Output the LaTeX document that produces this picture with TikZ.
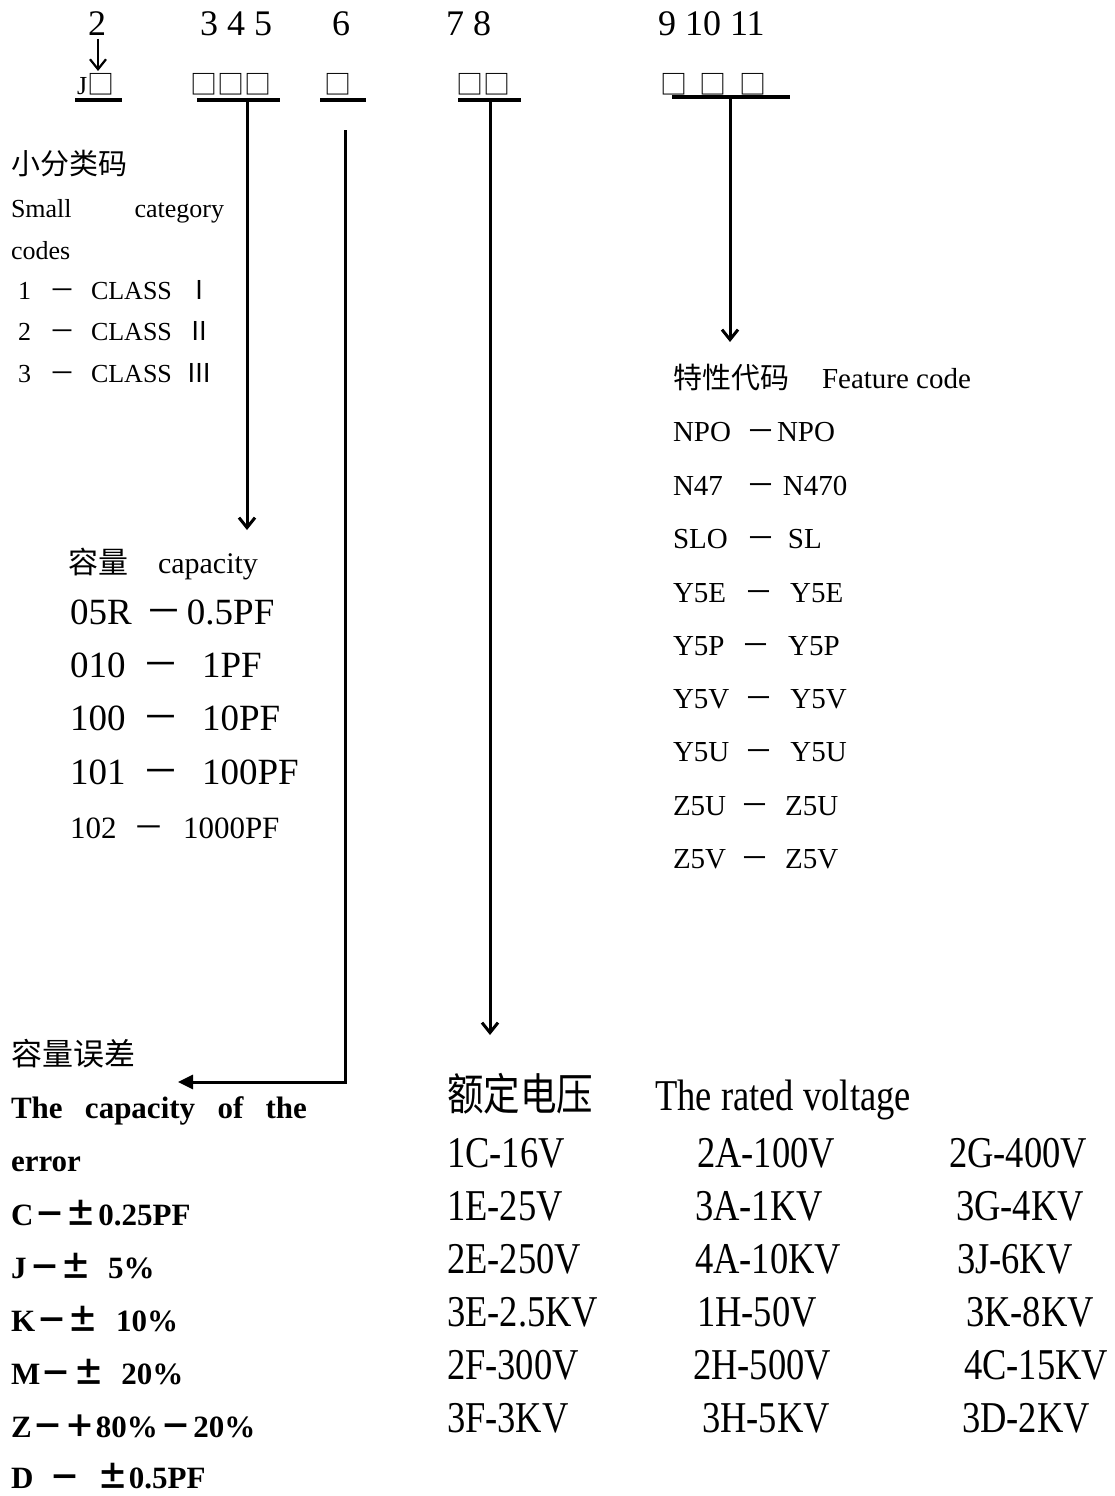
\documentclass[tikz,border=0pt]{standalone}
\usepackage{fontspec}
\setmainfont{Liberation Serif}
\newfontfamily\cjk{Noto Sans CJK SC}
\usetikzlibrary{arrows.meta}
\newcommand\fs[1]{\fontsize{#1}{#1}\selectfont}
\newcommand\fw[1]{\makebox[1em][c]{\cjk #1}}
\begin{document}
\begin{tikzpicture}[x=1pt,y=-1pt,
  txt/.style={anchor=base west,inner sep=0pt,outer sep=0pt},
  num/.style={txt,font=\fs{36}},
  boxes/.style={txt,font=\fs{27}\cjk},
  lft/.style={txt,font=\fs{26}},
  capt/.style={txt,font=\fs{37}},
  feat/.style={txt,font=\fs{29}},
  err/.style={txt,font=\fs{31}\bfseries},
  volt/.style={txt,font=\fs{44},xscale=0.83},
  ul/.style={line width=3.3pt},
  conn/.style={line width=3pt},
  barb/.style={-{Straight Barb[length=10pt,width=16pt]}},
  tri/.style={-{Triangle[length=15pt,width=14pt]}}]
\useasboundingbox (0,0) rectangle (1114,1496);
% top position numbers
\node[num] (n2) at (88,36) {2};
\node[num] (n345) at (200,36) {3 4 5};
\node[num] (n6) at (332,36) {6};
\node[num] (n78) at (446,36) {7 8};
\node[num] (n911) at (658,36) {9 10 11};
% code boxes
\node[txt,font=\fs{26}] (b2) at (77,94) {J{\fs{27}\cjk □}};
\node[boxes] (b345) at (190.5,94) {□□□};
\node[boxes] (b6) at (324,94) {□};
\node[boxes] (b78) at (456,94) {□□};
\node[boxes] (b911) at (660,94) {□\hspace{13pt}□\hspace{13pt}□};
% underlines
\coordinate (u2a) at (75,100);   \coordinate (u2b) at (122,100);
\coordinate (u345a) at (197,100); \coordinate (u345b) at (280,100);
\coordinate (u6a) at (320,100);  \coordinate (u6b) at (366,100);
\coordinate (u78a) at (458,100); \coordinate (u78b) at (521,100);
\coordinate (u911a) at (672,97); \coordinate (u911b) at (790,97);
\draw[ul] (u2a) -- (u2b);
\draw[ul] (u345a) -- (u345b);
\draw[ul] (u6a) -- (u6b);
\draw[ul] (u78a) -- (u78b);
\draw[ul] (u911a) -- (u911b);
% small category block
\node[txt,font=\fs{29}\cjk] (xf) at (11,174) {小分类码};
\node[lft] (sc) at (11,217) {\hbox to 213pt{Small\hfill category}};
\node[lft] (codes) at (11,259) {codes};
\node[lft] (cl1) at (18,299) {1\hspace{19pt}\fw{－}\hspace{15pt}CLASS\hspace{14.5pt}\fw{Ⅰ}};
\node[lft] (cl2) at (18,340) {2\hspace{19pt}\fw{－}\hspace{15pt}CLASS\hspace{14.5pt}\fw{Ⅱ}};
\node[lft] (cl3) at (18,382) {3\hspace{19pt}\fw{－}\hspace{15pt}CLASS\hspace{14.5pt}\fw{Ⅲ}};
% capacity block
\node[txt,font=\fs{30}] (capt) at (68,573) {{\cjk 容量}\hspace{30pt}capacity};
\node[capt] (c1) at (70,624) {05R\hspace{13.8pt}\fw{－}\hspace{4.5pt}0.5PF};
\node[capt] (c2) at (70,677) {010\hspace{17pt}\fw{－}\hspace{22.5pt}1PF};
\node[capt] (c3) at (70,730) {100\hspace{17pt}\fw{－}\hspace{22.5pt}10PF};
\node[capt] (c4) at (70,784) {101\hspace{17pt}\fw{－}\hspace{22.5pt}100PF};
\node[txt,font=\fs{31}] (c5) at (70,838) {102\hspace{16.5pt}\fw{－}\hspace{19pt}1000PF};
% feature code block
\node[feat] (ft) at (673,388) {{\cjk 特性代码}\hspace{33pt}Feature code};
\node[feat] (f1) at (673,441) {NPO\hspace{15pt}\fw{－}\hspace{2pt}NPO};
\node[feat] (f2) at (673,495) {N47\hspace{23.5pt}\fw{－}\hspace{7.5pt}N470};
\node[feat] (f3) at (673,548) {SLO\hspace{18.7pt}\fw{－}\hspace{12.5pt}SL};
\node[feat] (f4) at (673,602) {Y5E\hspace{18pt}\fw{－}\hspace{17pt}Y5E};
\node[feat] (f5) at (673,655) {Y5P\hspace{16.5pt}\fw{－}\hspace{18pt}Y5P};
\node[feat] (f6) at (673,708) {Y5V\hspace{15pt}\fw{－}\hspace{17pt}Y5V};
\node[feat] (f7) at (673,761) {Y5U\hspace{15pt}\fw{－}\hspace{17pt}Y5U};
\node[feat] (f8) at (673,815) {Z5U\hspace{14.5pt}\fw{－}\hspace{15.5pt}Z5U};
\node[feat] (f9) at (673,868) {Z5V\hspace{14.5pt}\fw{－}\hspace{15.5pt}Z5V};
% capacity tolerance block
\node[txt,font=\fs{31}\cjk] (et) at (11,1065) {容量误差};
\node[err] (e0) at (11,1118) {\hbox to 296pt{The\hfill capacity\hfill of\hfill the}};
\node[err] (e1) at (11,1171) {error};
\node[err] (e2) at (11,1225) {C\hspace{1.6pt}\fw{－}\fw{±}\hspace{1.5pt}0.25PF};
\node[err] (e3) at (11,1278) {J\hspace{2.5pt}\fw{－}\fw{±}\hspace{17pt}5\%};
\node[err] (e4) at (11,1331) {K\hspace{1pt}\fw{－}\fw{±}\hspace{18pt}10\%};
\node[err] (e5) at (11,1384) {M\hspace{0.5pt}\fw{－}\hspace{2pt}\fw{±}\hspace{16.5pt}20\%};
\node[err] (e6) at (11,1437) {Z\hspace{1.3pt}\fw{－}\hspace{1pt}\fw{＋}80\%\hspace{3pt}\fw{－}\hspace{1.5pt}20\%};
\node[err] (e7) at (11,1488) {D\hspace{16.6pt}\fw{－}\hspace{17pt}\fw{±}0.5PF};
% rated voltage block
\node[volt] (vt) at (447,1110) {{\cjk 额定电压}\hspace{75pt}The rated voltage};
\node[volt] (v11) at (447,1167) {1C-16V};
\node[volt] (v12) at (697,1167) {2A-100V};
\node[volt] (v13) at (949,1167) {2G-400V};
\node[volt] (v21) at (447,1220) {1E-25V};
\node[volt] (v22) at (695,1220) {3A-1KV};
\node[volt] (v23) at (956,1220) {3G-4KV};
\node[volt] (v31) at (447,1273) {2E-250V};
\node[volt] (v32) at (695,1273) {4A-10KV};
\node[volt] (v33) at (957,1273) {3J-6KV};
\node[volt] (v41) at (447,1326) {3E-2.5KV};
\node[volt] (v42) at (697,1326) {1H-50V};
\node[volt] (v43) at (966,1326) {3K-8KV};
\node[volt] (v51) at (447,1379) {2F-300V};
\node[volt] (v52) at (693,1379) {2H-500V};
\node[volt] (v53) at (964,1379) {4C-15KV};
\node[volt] (v61) at (447,1432) {3F-3KV};
\node[volt] (v62) at (702,1432) {3H-5KV};
\node[volt] (v63) at (962,1432) {3D-2KV};
% connectors
\coordinate (a2) at (98,71);
\coordinate (s345) at (247,100); \coordinate (t345) at (247,530);
\coordinate (s6) at (345,130);   \coordinate (k6) at (345,1082); \coordinate (t6) at (178,1082);
\coordinate (s78) at (490,100);  \coordinate (t78) at (490,1035);
\coordinate (s911) at (730,97);  \coordinate (t911) at (730,342);
\draw[line width=2.2pt,barb] ([shift={(1pt,-3pt)}]n2.south) -- (a2);
\draw[conn,barb] (s345) -- (t345);
\draw[conn,tri] (s6) -- (k6) -- (t6);
\draw[conn,barb] (s78) -- (t78);
\draw[conn,barb] (s911) -- (t911);
\end{tikzpicture}
\end{document}
